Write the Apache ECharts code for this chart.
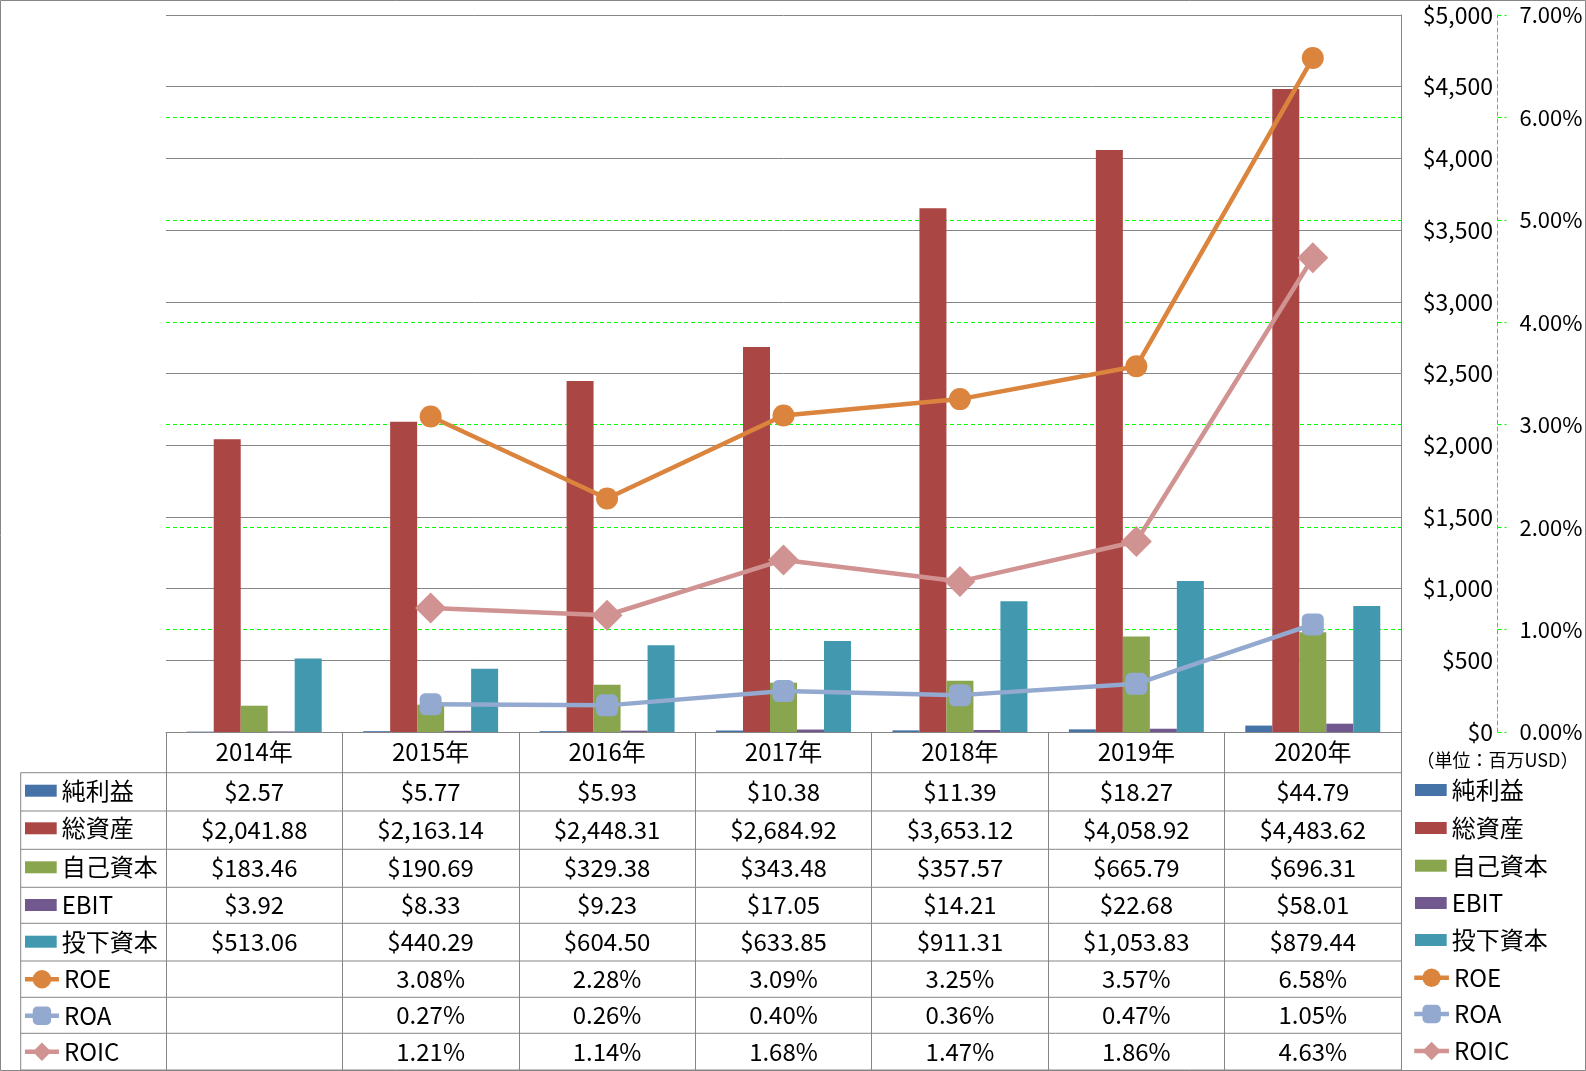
<!DOCTYPE html>
<html><head><meta charset="utf-8">
<script src="https://cdn.jsdelivr.net/npm/echarts@6/dist/echarts.min.js"></script>
<style>html,body{margin:0;padding:0;background:#fff}#c{width:1586px;height:1071px}</style>
</head><body><div id="c"></div><script>
// ---- data ----
const years = ['2014年','2015年','2016年','2017年','2018年','2019年','2020年'];
const netIncome = [2.57, 5.77, 5.93, 10.38, 11.39, 18.27, 44.79];
const totalAssets = [2041.88, 2163.14, 2448.31, 2684.92, 3653.12, 4058.92, 4483.62];
const equity = [183.46, 190.69, 329.38, 343.48, 357.57, 665.79, 696.31];
const ebit = [3.92, 8.33, 9.23, 17.05, 14.21, 22.68, 58.01];
const investedCapital = [513.06, 440.29, 604.50, 633.85, 911.31, 1053.83, 879.44];
const roe = [null, 3.08, 2.28, 3.09, 3.25, 3.57, 6.58];
const roa = [null, 0.27, 0.26, 0.40, 0.36, 0.47, 1.05];
const roic = [null, 1.21, 1.14, 1.68, 1.47, 1.86, 4.63];
const barNames = ['純利益','総資産','自己資本','EBIT','投下資本'];
const lineNames = ['ROE','ROA','ROIC'];
const dollarAxis = {min: 0, max: 5000, interval: 500};
const pctAxis = {min: 0, max: 7, interval: 1};
const unitLabel = '（単位：百万USD）';

// ---- styles / layout ----
const FONT = "'Noto Sans CJK JP', sans-serif";
const GRAY = '#868686';
const GREEN = '#00ff00';
const barColors = ['#4572A7','#AA4643','#89A54E','#71588F','#4198AF'];
const lineColors = ['#DB843D','#93A9CF','#D19392'];
const lineSymbols = ['circle','roundRect','diamond'];
const lineSymbolSizes = [22, 22, 31];
const gridL = 166, gridT = 15, gridW = 1235, gridH = 717;
const gridR = gridL + gridW, gridB = gridT + gridH;
const tableLeft = 20.7, tableBottom = 1070;
const rowLines = [772.7, 811, 849.3, 887.3, 923.3, 961, 997.3, 1033.3, 1070];
const leftLegendY = [790.7, 828.3, 867.3, 905, 941.7, 979.3, 1015.7, 1051.7];
const rightLegendY = [790, 828, 865.7, 903, 940, 977.7, 1014, 1051];

const barData = [netIncome, totalAssets, equity, ebit, investedCapital];
const lineData = [roe, roa, roic];
const allNames = barNames.concat(lineNames);

const fmtDollar = v => '$' + v.toLocaleString('en-US', {minimumFractionDigits: 2, maximumFractionDigits: 2});
const fmtPct = v => v == null ? '' : v.toFixed(2) + '%';

const series = [];
barNames.forEach((n, i) => series.push({
  name: n, type: 'bar', data: barData[i], yAxisIndex: 0,
  barGap: '0%', barCategoryGap: '23.5%',
  itemStyle: {color: barColors[i]}, z: 2
}));
lineNames.forEach((n, i) => series.push({
  name: n, type: 'line', data: lineData[i], yAxisIndex: 1,
  symbol: lineSymbols[i], symbolSize: lineSymbolSizes[i],
  lineStyle: {color: lineColors[i], width: 4.5},
  itemStyle: {color: lineColors[i]}, z: 4
}));

function legendFor(name, idx, side, cy) {
  const isLine = idx >= barNames.length;
  const iw = isLine ? (side === 'L' ? 34 : 34.7) : 31.7;
  const ih = isLine ? 23 : 12;
  const lx = side === 'L' ? (isLine ? 22.7 : 25) : (isLine ? 1412 : 1415);
  const o = {
    data: [name], orient: 'vertical', left: lx, top: cy - 12, padding: 0, itemGap: 0,
    itemWidth: iw, itemHeight: ih, selectedMode: false,
    textStyle: {fontSize: 24, lineHeight: 24, color: '#000', fontFamily: FONT}
  };
  if (isLine) o.lineStyle = {width: 4.5};
  else o.icon = 'rect';
  return o;
}
const legends = [];
allNames.forEach((n, i) => legends.push(legendFor(n, i, 'L', leftLegendY[i])));
allNames.forEach((n, i) => legends.push(legendFor(n, i, 'R', rightLegendY[i])));

const chart = echarts.init(document.getElementById('c'), null, {renderer: 'canvas'});
chart.setOption({
  animation: false,
  backgroundColor: '#fff',
  textStyle: {fontFamily: FONT},
  grid: {left: gridL, top: gridT, width: gridW, height: gridH, containLabel: false, outerBoundsMode: 'none'},
  legend: legends,
  xAxis: {
    type: 'category', data: years, boundaryGap: true,
    axisLine: {show: true, lineStyle: {color: GRAY, width: 1}},
    axisTick: {show: true, interval: 0, length: tableBottom - gridB, lineStyle: {color: GRAY, width: 1}},
    axisLabel: {interval: 0, fontSize: 24, lineHeight: 24, color: '#000', margin: 8, fontFamily: FONT},
    splitLine: {show: false}
  },
  yAxis: [{
    type: 'value', position: 'right', min: dollarAxis.min, max: dollarAxis.max, interval: dollarAxis.interval,
    axisLine: {show: true, lineStyle: {color: GRAY, width: 1}},
    axisTick: {show: false},
    axisLabel: {fontSize: 23, color: '#000', align: 'right', margin: 92, fontFamily: FONT,
      formatter: v => '$' + v.toLocaleString('en-US')},
    splitLine: {show: true, lineStyle: {color: GRAY, width: 1}}
  }, {
    type: 'value', position: 'right', offset: 96.5, min: pctAxis.min, max: pctAxis.max, interval: pctAxis.interval,
    axisLine: {show: true, lineStyle: {color: GREEN, width: 1, type: [4, 3]}},
    axisTick: {show: true, length: 9, lineStyle: {color: GREEN, width: 1, type: [4, 3]}},
    axisLabel: {fontSize: 22, color: '#000', align: 'left', margin: 22, fontFamily: FONT,
      formatter: v => v.toFixed(2) + '%'},
    splitLine: {show: true, showMinLine: false, showMaxLine: false, lineStyle: {color: GREEN, width: 1, type: [4, 3]}}
  }],
  series: series
});

// ---- data table (lines and texts) ----
const colX = years.map(y => chart.convertToPixel({xAxisIndex: 0}, y));
const g = [];
g.push({type: 'rect', shape: {x: 0.5, y: 0.5, width: 1585, height: 1070},
  style: {fill: 'none', stroke: GRAY, lineWidth: 1}, silent: true, z: 10});
rowLines.forEach(y => g.push({type: 'line', shape: {x1: tableLeft, y1: y, x2: gridR, y2: y},
  style: {stroke: GRAY, lineWidth: 1}, silent: true}));
g.push({type: 'line', shape: {x1: tableLeft, y1: rowLines[0], x2: tableLeft, y2: tableBottom},
  style: {stroke: GRAY, lineWidth: 1}, silent: true});
const rows = barData.map(arr => arr.map(fmtDollar)).concat(lineData.map(arr => arr.map(fmtPct)));
rows.forEach((vals, r) => {
  const cy = (rowLines[r] + rowLines[r + 1]) / 2;
  vals.forEach((t, c) => {
    if (!t) return;
    g.push({type: 'text', x: colX[c], y: cy, silent: true,
      style: {text: t, fontSize: 24, fontFamily: FONT, fill: '#000', align: 'center', verticalAlign: 'middle'}});
  });
});
g.push({type: 'text', x: 1497.5, y: 760, silent: true,
  style: {text: unitLabel, fontSize: 18, fontFamily: FONT, fill: '#000', align: 'center', verticalAlign: 'middle'}});
chart.setOption({graphic: g});
</script></body></html>
